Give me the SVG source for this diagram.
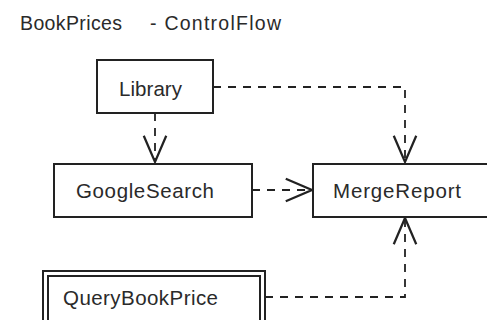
<svg xmlns="http://www.w3.org/2000/svg" width="487" height="320" viewBox="0 0 487 320">
  <style>
    text { font-family: "Liberation Sans", Arial, sans-serif; fill: #2a2a2a; }
    .title { font-size: 19.5px; }
    .label { font-size: 20.5px; }
    .box { fill: #ffffff; stroke: #222222; stroke-width: 2; }
    .flow { fill: none; stroke: #222222; stroke-width: 1.8; stroke-dasharray: 8 7; }
  </style>
  <defs>
    <marker id="open-arrow" markerUnits="userSpaceOnUse" markerWidth="30" markerHeight="30" viewBox="-22 -11 24 22" refX="0" refY="0" orient="auto">
      <path d="M-21,-9 L0,0 L-21,9" fill="none" stroke="#222222" stroke-width="1.8"/>
    </marker>
  </defs>
  <rect width="487" height="320" fill="#ffffff"/>

  <g id="title">
    <text class="title" x="20" y="30" textLength="102">BookPrices</text>
    <text class="title" x="150" y="30" textLength="131">- ControlFlow</text>
  </g>

  <g id="connectors">
    <path class="flow" d="M155,113 V162" marker-end="url(#open-arrow)"/>
    <path class="flow" d="M213,87 H405 V162" marker-end="url(#open-arrow)"/>
    <path class="flow" d="M252,190 H312" marker-end="url(#open-arrow)"/>
    <path class="flow" d="M265,297 H405 V218" marker-end="url(#open-arrow)"/>
  </g>

  <g id="library">
    <rect class="box" x="97" y="60" width="116" height="53"/>
    <text class="label" x="119" y="96" textLength="63">Library</text>
  </g>

  <g id="googlesearch">
    <rect class="box" x="54" y="164" width="198" height="53"/>
    <text class="label" x="76" y="198" textLength="138">GoogleSearch</text>
  </g>

  <g id="mergereport">
    <rect class="box" x="313" y="164" width="190" height="53"/>
    <text class="label" x="333" y="198" textLength="128">MergeReport</text>
  </g>

  <g id="querybookprice">
    <rect class="box" x="43" y="271" width="222" height="60" stroke-width="1.5"/>
    <rect class="box" x="48" y="276" width="212" height="50"/>
    <text class="label" x="63" y="305" textLength="155">QueryBookPrice</text>
  </g>
</svg>
